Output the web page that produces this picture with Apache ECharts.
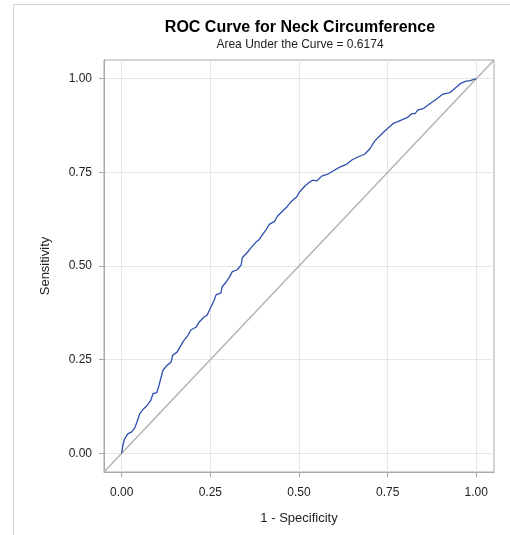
<!DOCTYPE html>
<html>
<head>
<meta charset="utf-8">
<script src="https://cdn.jsdelivr.net/npm/echarts@6/dist/echarts.min.js"></script>
<style>
  html, body { margin: 0; padding: 0; background: #fff; }
  #chart { width: 510px; height: 535px; }
</style>
</head>
<body>
<div id="chart"></div>
<script>
// ROC points (1 - specificity, sensitivity)
var fpr = [0.000, 0.003, 0.008, 0.017, 0.028, 0.037, 0.042, 0.051, 0.062, 0.071,
  0.082, 0.088, 0.099, 0.105, 0.110, 0.116, 0.127, 0.139, 0.144, 0.156,
  0.167, 0.176, 0.187, 0.195, 0.210, 0.218, 0.232, 0.241, 0.252, 0.261,
  0.266, 0.280, 0.283, 0.295, 0.303, 0.312, 0.326, 0.337, 0.340, 0.354,
  0.365, 0.380, 0.388, 0.397, 0.408, 0.416, 0.431, 0.439, 0.453, 0.467,
  0.479, 0.493, 0.501, 0.516, 0.530, 0.538, 0.550, 0.564, 0.581, 0.595,
  0.615, 0.635, 0.649, 0.666, 0.686, 0.700, 0.714, 0.734, 0.748, 0.765,
  0.785, 0.805, 0.819, 0.827, 0.836, 0.850, 0.870, 0.890, 0.904, 0.926,
  0.946, 0.955, 0.969, 0.983, 1.000];
var tpr = [0.000, 0.020, 0.038, 0.052, 0.057, 0.068, 0.081, 0.106, 0.119, 0.127,
  0.141, 0.159, 0.162, 0.181, 0.199, 0.221, 0.234, 0.243, 0.262, 0.270,
  0.288, 0.302, 0.315, 0.329, 0.337, 0.350, 0.364, 0.369, 0.391, 0.409,
  0.423, 0.428, 0.444, 0.458, 0.469, 0.485, 0.490, 0.503, 0.522, 0.536,
  0.549, 0.565, 0.571, 0.584, 0.598, 0.611, 0.619, 0.633, 0.646, 0.659,
  0.673, 0.684, 0.697, 0.713, 0.724, 0.729, 0.727, 0.740, 0.745, 0.753,
  0.764, 0.772, 0.783, 0.791, 0.799, 0.813, 0.834, 0.853, 0.866, 0.880,
  0.888, 0.896, 0.907, 0.907, 0.917, 0.920, 0.934, 0.947, 0.958, 0.963,
  0.979, 0.987, 0.993, 0.995, 1.000];
var refLine = [-0.05, 1.05];
var tickValues = [0, 0.25, 0.5, 0.75, 1];
var axisMin = -0.05, axisMax = 1.05;

var rocData = fpr.map(function (x, i) { return [x, tpr[i]]; });
var diagData = refLine.map(function (v) { return [v, v]; });

var font = "'Liberation Sans', Arial, sans-serif";
var frameColor = "#a4aab0";

function makeAxis(name, gap, labelMargin) {
  return {
    type: "value",
    min: axisMin,
    max: axisMax,
    name: name,
    nameLocation: "middle",
    nameGap: gap,
    nameTextStyle: { fontFamily: font, fontSize: 13, color: "#222" },
    axisLine: { show: true, onZero: false, lineStyle: { color: frameColor, width: 1 } },
    axisTick: {
      show: true, inside: false, length: 5,
      customValues: tickValues,
      lineStyle: { color: frameColor }
    },
    axisLabel: {
      customValues: tickValues,
      margin: labelMargin,
      fontFamily: font, fontSize: 12, color: "#222",
      formatter: function (v) { return v.toFixed(2); }
    },
    splitLine: { show: true, lineStyle: { color: "#e6e6e6", width: 1 } }
  };
}

var chart = echarts.init(document.getElementById("chart"));
chart.setOption({
  animation: false,
  title: [
    {
      text: "ROC Curve for Neck Circumference",
      left: 300, top: 20, textAlign: "center", padding: 0,
      textStyle: { fontFamily: font, fontSize: 16, fontWeight: "bold", color: "#000" }
    },
    {
      text: "Area Under the Curve = 0.6174",
      left: 300, top: 39, textAlign: "center", padding: 0,
      textStyle: { fontFamily: font, fontSize: 12, fontWeight: "normal", color: "#222" }
    }
  ],
  graphic: [
    {
      type: "polyline",
      shape: { points: [[13.5, 535], [13.5, 4.5], [510, 4.5]] },
      style: { stroke: "#d4d4d4", lineWidth: 1, fill: null }
    }
  ],
  grid: {
    left: 104, top: 60, right: 16, bottom: 63,
    show: true, borderColor: frameColor, borderWidth: 1, backgroundColor: "#fff"
  },
  xAxis: makeAxis("1 - Specificity", 40, 15),
  yAxis: makeAxis("Sensitivity", 52, 12),
  series: [
    {
      type: "line",
      data: diagData,
      showSymbol: false,
      silent: true,
      lineStyle: { color: "#b4b4b4", width: 1.5 },
      z: 1
    },
    {
      type: "line",
      data: rocData,
      showSymbol: false,
      lineStyle: { color: "#2f4fae", width: 1.3 },
      z: 2
    }
  ]
});
</script>
</body>
</html>
